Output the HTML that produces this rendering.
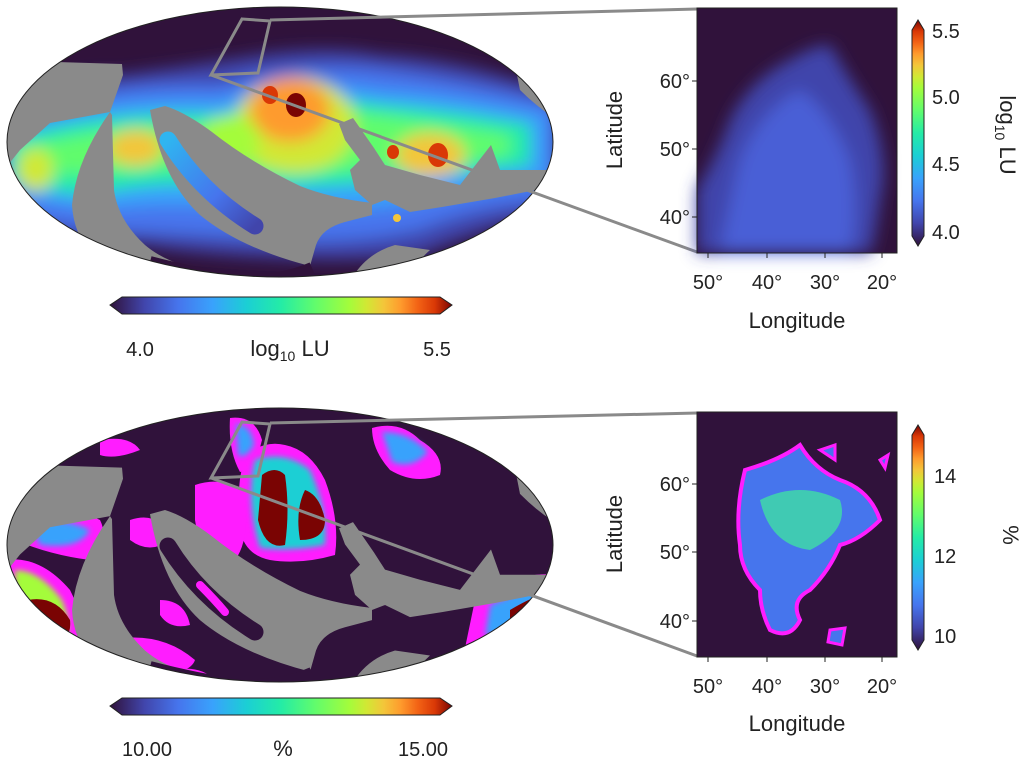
<!DOCTYPE html>
<html><head><meta charset="utf-8"><style>
body{margin:0;background:#fff}
svg text{font-family:"Liberation Sans",sans-serif;fill:#222}
</style></head><body>
<svg width="1024" height="758" viewBox="0 0 1024 758" xmlns="http://www.w3.org/2000/svg">
<defs>
<linearGradient id="turboH" x1="0" x2="1" y1="0" y2="0">
<stop offset="0" stop-color="#30123b"/><stop offset="0.1" stop-color="#4145ab"/><stop offset="0.2" stop-color="#4675ed"/><stop offset="0.3" stop-color="#39a2fc"/><stop offset="0.4" stop-color="#1bcfd4"/><stop offset="0.5" stop-color="#24eca6"/><stop offset="0.6" stop-color="#61fc6c"/><stop offset="0.7" stop-color="#a4fc3b"/><stop offset="0.75" stop-color="#d1e834"/><stop offset="0.8" stop-color="#f3c63a"/><stop offset="0.85" stop-color="#fe9b2d"/><stop offset="0.9" stop-color="#f36315"/><stop offset="0.95" stop-color="#d93806"/><stop offset="1" stop-color="#7a0403"/>
</linearGradient>
<linearGradient id="turboV" x1="0" x2="0" y1="1" y2="0">
<stop offset="0" stop-color="#30123b"/><stop offset="0.1" stop-color="#4145ab"/><stop offset="0.2" stop-color="#4675ed"/><stop offset="0.3" stop-color="#39a2fc"/><stop offset="0.4" stop-color="#1bcfd4"/><stop offset="0.5" stop-color="#24eca6"/><stop offset="0.6" stop-color="#61fc6c"/><stop offset="0.7" stop-color="#a4fc3b"/><stop offset="0.75" stop-color="#d1e834"/><stop offset="0.8" stop-color="#f3c63a"/><stop offset="0.85" stop-color="#fe9b2d"/><stop offset="0.9" stop-color="#f36315"/><stop offset="0.95" stop-color="#d93806"/><stop offset="1" stop-color="#7a0403"/>
</linearGradient>
<linearGradient id="strip" x1="0" y1="0" x2="1" y2="1">
<stop offset="0" stop-color="#2fb5f0"/><stop offset="0.6" stop-color="#4675ed"/><stop offset="1" stop-color="#4145ab"/>
</linearGradient>
<clipPath id="e1"><ellipse cx="280" cy="142" rx="273" ry="135"/></clipPath>
<clipPath id="e2"><ellipse cx="280" cy="545" rx="273" ry="137"/></clipPath>
<filter id="b8"><feGaussianBlur stdDeviation="8"/></filter>
<filter id="b4"><feGaussianBlur stdDeviation="3"/></filter>
<g id="mask" fill="#8a8a8a">
<path d="M0 50 L57 62 L122 64 L123 75 L110 112 L50 123 L20 150 L0 175Z"/>
<path d="M110 112 Q76 160 72 205 Q74 240 100 262 L110 292 L205 292 L185 266 Q160 258 145 245 Q118 220 114 190 L112 115Z"/>
<path d="M150 110 Q162 180 200 215 Q240 248 310 266 L316 245 Q322 228 345 222 L372 215 L372 203 Q330 198 300 186 Q250 162 212 132 Q185 112 165 106Z"/>
<path d="M339 124 L353 118 L374 148 L385 165 L420 175 L460 185 L491 145 L500 170 L556 170 L556 186 L495 198 L442 207 L410 212 L385 200 L372 205 L355 190 L350 170 L360 160 L345 140Z"/>
<path d="M514 60 L560 60 L560 121 Q540 110 520 90Z"/>
<path d="M345 292 Q360 255 395 245 L430 250 Q410 268 400 292Z"/>
</g>
</defs>

<!-- TOP MAP -->
<g clip-path="url(#e1)">
<rect x="0" y="0" width="560" height="290" fill="#30123b"/>
<g filter="url(#b8)">
<path d="M0 110 Q60 70 120 75 Q200 65 260 55 Q330 45 380 55 Q470 60 560 95 L560 210 Q480 230 420 255 Q350 262 280 258 Q200 255 140 245 Q60 250 0 220Z" fill="#4145ab"/>
<path d="M0 120 Q100 80 220 85 Q300 60 380 70 Q460 80 560 105 L560 200 Q480 205 420 230 Q350 245 280 240 Q200 235 140 232 Q60 230 0 210Z" fill="#4675ed"/>
<path d="M5 130 Q100 95 220 100 Q300 75 380 90 Q460 95 545 115 L545 180 Q460 190 400 205 Q320 215 260 210 Q170 200 100 210 Q40 205 5 190Z" fill="#39a2fc"/>
<path d="M10 140 Q100 110 220 115 Q300 90 380 105 Q450 110 530 125 L530 165 Q450 175 380 182 Q300 190 230 185 Q150 180 90 195 Q40 190 10 180Z" fill="#24eca6"/>
<path d="M20 150 Q100 125 220 125 Q300 105 380 115 Q450 125 510 135 L510 155 Q450 165 380 168 Q300 175 230 170 Q150 165 90 175 Q40 172 20 165Z" fill="#61fc6c"/>
<ellipse cx="295" cy="125" rx="60" ry="48" fill="#d1e834"/>
<ellipse cx="290" cy="110" rx="40" ry="32" fill="#fe9b2d"/>
<ellipse cx="430" cy="155" rx="35" ry="22" fill="#f3c63a"/>
<ellipse cx="135" cy="148" rx="28" ry="18" fill="#f3c63a"/>
<ellipse cx="35" cy="170" rx="18" ry="22" fill="#d1e834"/>
<ellipse cx="230" cy="140" rx="30" ry="25" fill="#a4fc3b"/>
</g>
<ellipse cx="270" cy="95" rx="8" ry="9" fill="#d93806"/>
<ellipse cx="296" cy="105" rx="10" ry="12" fill="#7a0403"/>
<ellipse cx="438" cy="155" rx="10" ry="12" fill="#d93806"/>
<ellipse cx="393" cy="152" rx="6" ry="7" fill="#d93806"/>
<ellipse cx="397" cy="218" rx="4" ry="4" fill="#f3c63a"/>
<use href="#mask"/>
<path d="M150 262 Q200 275 240 280 Q280 282 312 268" stroke="#30123b" stroke-width="12" fill="none"/>
<path d="M168 140 Q200 192 255 226" stroke="url(#strip)" stroke-width="17" stroke-linecap="round" fill="none"/>
</g>
<ellipse cx="280" cy="142" rx="273" ry="135" fill="none" stroke="#222" stroke-width="1"/>
<path d="M242 19 L270 21 L258 73 L211 75Z" fill="none" stroke="#8a8a8a" stroke-width="3"/>
<line x1="270" y1="20" x2="697" y2="9" stroke="#8a8a8a" stroke-width="3"/>
<line x1="211" y1="75" x2="697" y2="252" stroke="#8a8a8a" stroke-width="3"/>

<!-- TOP INSET -->
<rect x="697" y="8" width="200" height="245" fill="#30123b"/>
<g filter="url(#b8)">
<path d="M697 253 L697 190 Q720 150 730 120 Q750 80 790 60 Q815 45 830 45 Q850 80 870 110 Q890 160 880 200 Q875 240 870 253Z" fill="#4145ab"/>
<path d="M720 253 Q730 200 740 160 Q760 110 800 90 Q830 110 850 160 Q860 210 850 253Z" fill="#4a5fd6"/>
</g>
<rect x="697" y="8" width="200" height="245" fill="none" stroke="#222"/>
<g font-size="20">
<text x="690" y="88" text-anchor="end">60°</text>
<text x="690" y="156" text-anchor="end">50°</text>
<text x="690" y="224" text-anchor="end">40°</text>
<text x="708" y="289" text-anchor="middle">50°</text>
<text x="767" y="289" text-anchor="middle">40°</text>
<text x="825" y="289" text-anchor="middle">30°</text>
<text x="882" y="289" text-anchor="middle">20°</text>
<text x="797" y="328" text-anchor="middle" font-size="22">Longitude</text>
<text transform="translate(622,130) rotate(-90)" text-anchor="middle" font-size="22">Latitude</text>
</g>
<g stroke="#222"><line x1="692" y1="81" x2="697" y2="81"/><line x1="692" y1="149" x2="697" y2="149"/><line x1="692" y1="217" x2="697" y2="217"/>
<line x1="708" y1="253" x2="708" y2="258"/><line x1="767" y1="253" x2="767" y2="258"/><line x1="825" y1="253" x2="825" y2="258"/><line x1="882" y1="253" x2="882" y2="258"/></g>
<path d="M912 30 L918 20 L924 30 L924 236 L918 246 L912 236Z" fill="url(#turboV)" stroke="#222"/>
<g font-size="20"><text x="932" y="38">5.5</text><text x="932" y="104">5.0</text><text x="932" y="171">4.5</text><text x="932" y="239">4.0</text></g>
<text transform="translate(1000,135) rotate(90)" text-anchor="middle" font-size="22">log<tspan font-size="14" dy="5">10</tspan><tspan dy="-5"> LU</tspan></text>
<path d="M122 297 L440 297 L452 305 L440 314 L122 314 L110 305Z" fill="url(#turboH)" stroke="#222"/>
<g font-size="20"><text x="140" y="356" text-anchor="middle">4.0</text><text x="437" y="356" text-anchor="middle">5.5</text>
<text x="290" y="356" text-anchor="middle" font-size="22">log<tspan font-size="14" dy="5">10</tspan><tspan dy="-5"> LU</tspan></text></g>

<!-- BOTTOM MAP -->
<g clip-path="url(#e2)">
<rect x="0" y="400" width="560" height="290" fill="#30123b"/>
<g fill="#ff1dff">
<path d="M245 455 Q265 440 285 445 Q310 450 325 480 Q340 520 335 555 Q300 565 270 560 Q245 555 240 530 Q235 490 245 455Z"/>
<path d="M195 485 Q225 475 245 495 Q250 540 235 560 Q200 555 195 520Z"/>
<path d="M5 560 Q40 555 70 590 Q90 630 85 660 Q50 665 20 650 L5 620Z"/>
<path d="M15 520 Q60 500 100 520 Q110 540 90 560 Q50 555 15 540Z"/>
<path d="M475 600 Q520 570 556 575 L556 625 Q520 645 465 648Z"/>
<path d="M372 428 Q400 420 420 440 Q445 455 440 475 Q415 485 390 470 Q372 450 372 428Z"/>
<path d="M230 418 Q255 415 262 440 Q255 470 240 472 Q228 450 230 418Z"/>
<path d="M110 640 Q160 630 195 660 Q190 675 150 675 Q115 665 110 640Z"/>
<path d="M205 590 Q225 590 230 625 Q215 630 205 610Z"/>
<path d="M360 575 Q385 575 385 605 Q360 610 360 575Z"/>
<path d="M175 670 Q200 665 215 680 L180 685Z"/>
<path d="M130 520 Q160 510 170 540 Q150 555 130 540Z"/>
<path d="M160 600 Q185 600 190 625 Q170 630 160 615Z"/>
<path d="M100 440 Q130 435 140 450 Q115 460 100 455Z"/>
</g>
<g filter="url(#b4)">
<path d="M255 460 Q285 450 310 470 Q328 510 325 545 Q290 552 260 548 Q245 500 255 460Z" fill="#1bcfd4"/>
<path d="M15 570 Q40 570 62 600 Q75 630 60 650 Q25 645 15 620Z" fill="#a4fc3b"/>
<path d="M490 605 Q530 585 556 585 L556 620 Q520 635 485 635Z" fill="#39a2fc"/>
<path d="M382 432 Q410 432 428 452 Q412 470 392 462Z" fill="#39a2fc"/>
<path d="M236 424 Q252 425 254 445 Q245 460 238 455Z" fill="#39a2fc"/>
<path d="M30 525 Q60 515 90 530 Q80 550 40 545Z" fill="#39a2fc"/>
</g>
<path d="M262 475 Q275 465 285 475 Q290 510 285 545 Q265 550 258 520Z" fill="#7a0403"/>
<path d="M305 490 Q320 495 325 520 Q325 540 300 540 Q295 510 305 490Z" fill="#7a0403"/>
<path d="M28 600 Q55 595 70 620 Q72 640 55 640 Q30 630 28 600Z" fill="#7a0403"/>
<path d="M510 610 Q535 595 556 590 L556 620 Q530 630 510 625Z" fill="#7a0403"/>
<g transform="translate(0,403) scale(1,1.01)"><use href="#mask"/></g>
<path d="M150 667 Q200 680 240 685 Q280 687 312 673" stroke="#30123b" stroke-width="12" fill="none"/>
<path d="M168 546 Q200 598 255 632" stroke="#30123b" stroke-width="17" stroke-linecap="round" fill="none"/>
<path d="M200 585 Q215 600 225 612" stroke="#ff1dff" stroke-width="8" stroke-linecap="round" fill="none"/>
</g>
<ellipse cx="280" cy="545" rx="273" ry="137" fill="none" stroke="#222" stroke-width="1"/>
<path d="M242 422 L270 424 L258 476 L211 478Z" fill="none" stroke="#8a8a8a" stroke-width="3"/>
<line x1="270" y1="423" x2="697" y2="413" stroke="#8a8a8a" stroke-width="3"/>
<line x1="211" y1="478" x2="697" y2="656" stroke="#8a8a8a" stroke-width="3"/>

<!-- BOTTOM INSET -->
<rect x="697" y="412" width="200" height="245" fill="#30123b"/>
<path d="M745 470 Q780 460 800 445 Q815 470 840 480 Q870 490 880 520 Q860 540 840 545 Q830 570 810 590 Q790 600 800 620 Q790 640 770 630 Q760 610 760 590 Q740 570 740 545 Q735 510 745 470Z" fill="#4675ed" stroke="#ff1dff" stroke-width="4"/>
<path d="M760 500 Q800 480 840 500 Q850 530 810 550 Q770 545 760 500Z" fill="#3fd9a8" opacity="0.85"/>
<path d="M820 450 L835 445 L835 460Z M880 460 L888 455 L885 468Z M830 630 L845 628 L842 645 L828 642Z" fill="#4675ed" stroke="#ff1dff" stroke-width="3"/>
<rect x="697" y="412" width="200" height="245" fill="none" stroke="#222"/>
<g font-size="20">
<text x="690" y="491" text-anchor="end">60°</text>
<text x="690" y="559" text-anchor="end">50°</text>
<text x="690" y="628" text-anchor="end">40°</text>
<text x="708" y="693" text-anchor="middle">50°</text>
<text x="767" y="693" text-anchor="middle">40°</text>
<text x="825" y="693" text-anchor="middle">30°</text>
<text x="882" y="693" text-anchor="middle">20°</text>
<text x="797" y="731" text-anchor="middle" font-size="22">Longitude</text>
<text transform="translate(622,534) rotate(-90)" text-anchor="middle" font-size="22">Latitude</text>
</g>
<g stroke="#222"><line x1="692" y1="484" x2="697" y2="484"/><line x1="692" y1="552" x2="697" y2="552"/><line x1="692" y1="621" x2="697" y2="621"/>
<line x1="708" y1="657" x2="708" y2="662"/><line x1="767" y1="657" x2="767" y2="662"/><line x1="825" y1="657" x2="825" y2="662"/><line x1="882" y1="657" x2="882" y2="662"/></g>
<path d="M912 435 L918 425 L924 435 L924 640 L918 650 L912 640Z" fill="url(#turboV)" stroke="#222"/>
<g font-size="20"><text x="934" y="483">14</text><text x="934" y="563">12</text><text x="934" y="643">10</text></g>
<text transform="translate(1003,535) rotate(90)" text-anchor="middle" font-size="22">%</text>
<path d="M122 698 L440 698 L452 706 L440 715 L122 715 L110 706Z" fill="url(#turboH)" stroke="#222"/>
<g font-size="20"><text x="147" y="756" text-anchor="middle">10.00</text><text x="423" y="756" text-anchor="middle">15.00</text>
<text x="283" y="756" text-anchor="middle" font-size="22">%</text></g>
</svg>
</body></html>
